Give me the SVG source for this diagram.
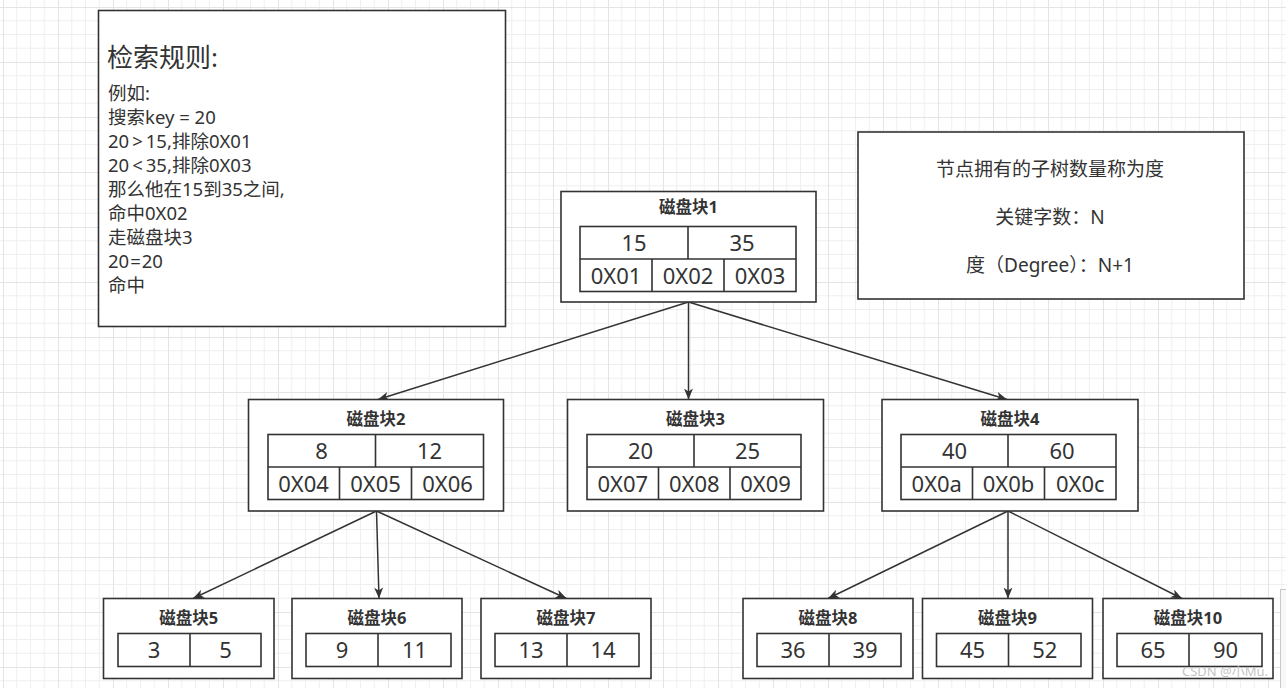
<svg xmlns="http://www.w3.org/2000/svg" width="1286" height="688" viewBox="0 0 1286 688">
<defs>
<pattern id="grid" x="3" y="7" width="55" height="55" patternUnits="userSpaceOnUse">
<path d="M13.75 0V55M27.5 0V55M41.25 0V55M0 13.75H55M0 27.5H55M0 41.25H55" stroke="#efefef" stroke-width="1" fill="none"/>
<path d="M0.5 0V55M0 0.5H55" stroke="#e4e4e4" stroke-width="1" fill="none"/>
</pattern>
<marker id="arr" markerUnits="userSpaceOnUse" markerWidth="12" markerHeight="10" refX="11" refY="4.5" orient="auto">
<path d="M0,0 L11,4.5 L0,9 L3,4.5 Z" fill="#333"/>
</marker>
</defs>
<style>
.box{fill:#fff;stroke:#333;stroke-width:1.6}
.cell{fill:#fff;stroke:#333;stroke-width:1.6}
.ln{stroke:#333;stroke-width:1.6;fill:none}
.edge{stroke:#333;stroke-width:1.5;fill:none;marker-end:url(#arr)}
text{font-family:"Noto Sans","Noto Sans CJK SC",sans-serif;fill:#333}
.t{font-size:16.5px;font-weight:bold;text-anchor:middle}
.k{font-size:22px;text-anchor:middle}
.body{font-size:18.5px}
.r{font-size:19px;text-anchor:middle}
</style>
<rect width="1286" height="688" fill="#fff"/>
<rect width="1286" height="688" fill="url(#grid)"/>

<g id="rules">
<rect class="box" x="98.5" y="10.5" width="407" height="316"/>
<text x="107" y="67" style="font-size:26px">检索规则:</text>
<text class="body" x="108" y="100">例如:</text>
<text class="body" x="108" y="124">搜索key = 20</text>
<text class="body" x="108" y="148">20<tspan dx="3">&gt;</tspan><tspan dx="3">15,排除0X01</tspan></text>
<text class="body" x="108" y="172">20<tspan dx="3">&lt;</tspan><tspan dx="3">35,排除0X03</tspan></text>
<text class="body" x="108" y="196">那么他在15到35之间,</text>
<text class="body" x="108" y="220">命中0X02</text>
<text class="body" x="108" y="244">走磁盘块3</text>
<text class="body" x="108" y="268">20<tspan dx="1">=</tspan><tspan dx="1">20</tspan></text>
<text class="body" x="108" y="292">命中</text>
</g>

<g id="degree">
<rect class="box" x="858" y="132" width="386" height="167"/>
<text class="r" x="1050" y="176">节点拥有的子树数量称为度</text>
<text class="r" x="1050" y="224">关键字数：N</text>
<text class="r" x="1050" y="272">度（Degree）：N+1</text>
</g>

<g id="connectors">
<line class="edge" x1="688.5" y1="302" x2="378" y2="399.5"/>
<line class="edge" x1="688.5" y1="302" x2="688.5" y2="399.5"/>
<line class="edge" x1="688.5" y1="302" x2="1007" y2="399.5"/>
<line class="edge" x1="376.5" y1="511" x2="193" y2="598.5"/>
<line class="edge" x1="376.5" y1="511" x2="379" y2="598.5"/>
<line class="edge" x1="376.5" y1="511" x2="566.5" y2="598.5"/>
<line class="edge" x1="1008" y1="511" x2="828" y2="598.5"/>
<line class="edge" x1="1008" y1="511" x2="1008" y2="598.5"/>
<line class="edge" x1="1008" y1="511" x2="1182" y2="598.5"/>
</g>

<g id="block1">
<rect class="box" x="561" y="191.5" width="255" height="110.5"/>
<text class="t" x="688.5" y="213">磁盘块1</text>
<rect class="cell" x="580" y="226.5" width="216" height="65"/>
<path class="ln" d="M580 259H796M688 226.5V259M652 259V291.5M724 259V291.5"/>
<text class="k" x="634" y="251">15</text>
<text class="k" x="742" y="251">35</text>
<text class="k" x="616" y="284">0X01</text>
<text class="k" x="688" y="284">0X02</text>
<text class="k" x="760" y="284">0X03</text>
</g>

<g id="block2">
<rect class="box" x="248.5" y="399.5" width="255" height="111.5"/>
<text class="t" x="376" y="425">磁盘块2</text>
<rect class="cell" x="268" y="434.5" width="215.5" height="65"/>
<path class="ln" d="M268 467H483.5M375.5 434.5V467M339.5 467V499.5M411.5 467V499.5"/>
<text class="k" x="321.5" y="459">8</text>
<text class="k" x="429.5" y="459">12</text>
<text class="k" x="303.5" y="492">0X04</text>
<text class="k" x="375.5" y="492">0X05</text>
<text class="k" x="447.5" y="492">0X06</text>
</g>

<g id="block3">
<rect class="box" x="567.5" y="399.5" width="256" height="111.5"/>
<text class="t" x="695.5" y="425">磁盘块3</text>
<rect class="cell" x="587" y="434.5" width="214" height="65"/>
<path class="ln" d="M587 467H801M694 434.5V467M658.5 467V499.5M730 467V499.5"/>
<text class="k" x="640.5" y="459">20</text>
<text class="k" x="747.5" y="459">25</text>
<text class="k" x="622.75" y="492">0X07</text>
<text class="k" x="694.25" y="492">0X08</text>
<text class="k" x="765.5" y="492">0X09</text>
</g>

<g id="block4">
<rect class="box" x="882" y="399.5" width="256" height="111.5"/>
<text class="t" x="1010" y="425">磁盘块4</text>
<rect class="cell" x="901" y="434.5" width="215" height="65"/>
<path class="ln" d="M901 467H1116M1008 434.5V467M972.5 467V499.5M1044.5 467V499.5"/>
<text class="k" x="954.5" y="459">40</text>
<text class="k" x="1062" y="459">60</text>
<text class="k" x="936.75" y="492">0X0a</text>
<text class="k" x="1008.5" y="492">0X0b</text>
<text class="k" x="1080.25" y="492">0X0c</text>
</g>

<g id="block5">
<rect class="box" x="103.5" y="598.5" width="170.5" height="80"/>
<text class="t" x="188.75" y="624">磁盘块5</text>
<rect class="cell" x="118" y="633.5" width="143" height="33"/>
<path class="ln" d="M190 633.5V666.5"/>
<text class="k" x="154" y="658">3</text>
<text class="k" x="225.5" y="658">5</text>
</g>

<g id="block6">
<rect class="box" x="292" y="598.5" width="170" height="80"/>
<text class="t" x="377" y="624">磁盘块6</text>
<rect class="cell" x="306" y="633.5" width="145" height="33"/>
<path class="ln" d="M378 633.5V666.5"/>
<text class="k" x="342" y="658">9</text>
<text class="k" x="414.5" y="658">11</text>
</g>

<g id="block7">
<rect class="box" x="481" y="598.5" width="170" height="80"/>
<text class="t" x="566" y="624">磁盘块7</text>
<rect class="cell" x="495" y="633.5" width="144" height="33"/>
<path class="ln" d="M567 633.5V666.5"/>
<text class="k" x="531" y="658">13</text>
<text class="k" x="603" y="658">14</text>
</g>

<g id="block8">
<rect class="box" x="743" y="598.5" width="170" height="80"/>
<text class="t" x="828" y="624">磁盘块8</text>
<rect class="cell" x="757" y="633.5" width="144" height="33"/>
<path class="ln" d="M829 633.5V666.5"/>
<text class="k" x="793" y="658">36</text>
<text class="k" x="865" y="658">39</text>
</g>

<g id="block9">
<rect class="box" x="922.5" y="598.5" width="170" height="80"/>
<text class="t" x="1007.5" y="624">磁盘块9</text>
<rect class="cell" x="936.5" y="633.5" width="144.5" height="33"/>
<path class="ln" d="M1008.5 633.5V666.5"/>
<text class="k" x="972.5" y="658">45</text>
<text class="k" x="1044.75" y="658">52</text>
</g>

<g id="block10">
<rect class="box" x="1103" y="598.5" width="170" height="80"/>
<text class="t" x="1188" y="624">磁盘块10</text>
<rect class="cell" x="1117" y="633.5" width="145" height="33"/>
<path class="ln" d="M1189 633.5V666.5"/>
<text class="k" x="1153" y="658">65</text>
<text class="k" x="1225.5" y="658">90</text>
</g>

<rect x="1280.5" y="589.5" width="10" height="110" fill="#f7f7f7" stroke="#c8c8c8" stroke-width="1"/>
<text x="1182" y="676" style="font-size:13px;fill:#c4c4c4">CSDN @小Mu.</text>
</svg>
